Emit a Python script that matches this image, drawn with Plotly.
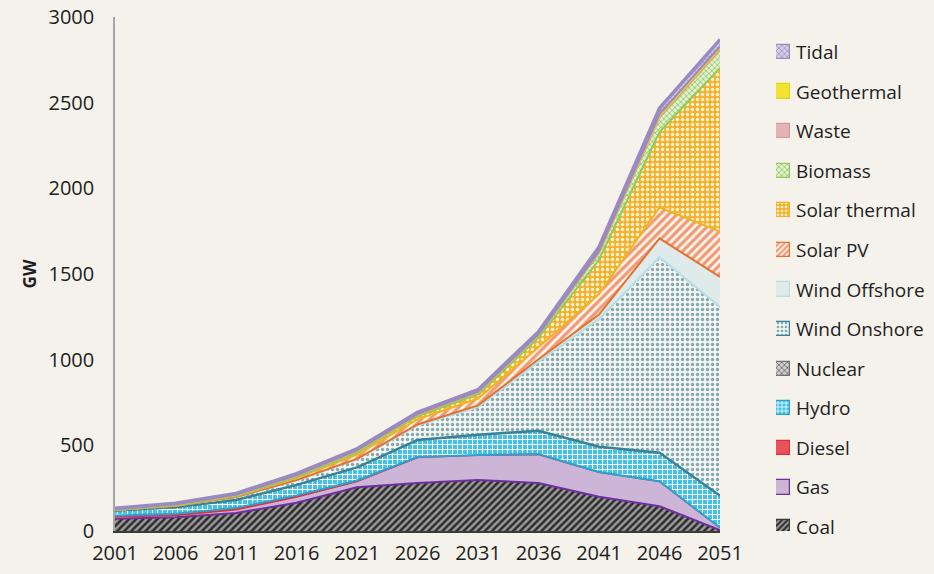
import plotly.graph_objects as go

years = [2001, 2006, 2011, 2016, 2021, 2026, 2031, 2036, 2041, 2046, 2051]

coal = [72, 80, 105, 165, 255, 280, 298, 280, 200, 145, 5]
gas = [12, 12, 20, 35, 35, 150, 145, 168, 144, 145, 15]
diesel = [6, 8, 10, 8, 5, 2, 1, 1, 0, 0, 0]
hydro = [28, 38, 45, 60, 75, 97, 116, 135, 146, 165, 185]
nuclear = [1, 1, 2, 2, 3, 3, 3, 3, 3, 3, 3]
wind_onshore = [3, 8, 15, 25, 45, 85, 160, 400, 745, 1140, 1100]
wind_offshore = [0, 0, 1, 2, 3, 5, 10, 15, 25, 110, 175]
solar_pv = [1, 2, 4, 12, 25, 30, 40, 70, 120, 180, 265]
solar_thermal = [0, 1, 2, 5, 12, 18, 25, 55, 200, 440, 955]
biomass = [3, 4, 5, 7, 8, 8, 10, 15, 40, 85, 105]
waste = [1, 1, 1, 2, 2, 2, 2, 3, 5, 10, 10]
geothermal = [0, 1, 1, 2, 2, 2, 3, 3, 5, 10, 10]
tidal = [5, 6, 8, 10, 10, 10, 12, 15, 25, 35, 40]

names = ["Coal", "Gas", "Diesel", "Hydro", "Nuclear", "Wind Onshore", "Wind Offshore",
         "Solar PV", "Solar thermal", "Biomass", "Waste", "Geothermal", "Tidal"]
series = [coal, gas, diesel, hydro, nuclear, wind_onshore, wind_offshore,
          solar_pv, solar_thermal, biomass, waste, geothermal, tidal]
tick_years = [2001, 2006, 2011, 2016, 2021, 2026, 2031, 2036, 2041, 2046, 2051]
y_ticks = [0, 500, 1000, 1500, 2000, 2500, 3000]

styles = {
    "Coal": dict(border="#3a3a3a", pat=dict(shape="/", fgcolor="#2b2b2b", bgcolor="#9a9a9a", size=5, solidity=0.5)),
    "Gas": dict(border="#6f2f9f", pat=dict(shape="", bgcolor="#cdb5d8", fgcolor="#cdb5d8")),
    "Diesel": dict(border="#e0303c", pat=dict(shape="", bgcolor="#e8525a", fgcolor="#e8525a")),
    "Hydro": dict(border="#2aa3cf", pat=dict(shape="+", fgcolor="#ffffff", bgcolor="#45c0e6", size=5, solidity=0.35)),
    "Nuclear": dict(border="#707070", pat=dict(shape="x", fgcolor="#6e6e6e", bgcolor="#d0d0d0", size=5, solidity=0.4)),
    "Wind Onshore": dict(border="#31859c", pat=dict(shape=".", fgcolor="#86a8ab", bgcolor="#f1f5f3", size=5, solidity=0.35)),
    "Wind Offshore": dict(border="#b7dde6", pat=dict(shape="", bgcolor="#dfeaea", fgcolor="#dfeaea")),
    "Solar PV": dict(border="#e2722e", pat=dict(shape="/", fgcolor="#fff6ee", bgcolor="#ef9b78", size=6, solidity=0.45)),
    "Solar thermal": dict(border="#f2b321", pat=dict(shape=".", fgcolor="#fff4dc", bgcolor="#f4b32e", size=5, solidity=0.35)),
    "Biomass": dict(border="#8fcb5c", pat=dict(shape="x", fgcolor="#94cc68", bgcolor="#e3f0d2", size=4, solidity=0.4)),
    "Waste": dict(border="#d99a9e", pat=dict(shape="", bgcolor="#e2b2b4", fgcolor="#e2b2b4")),
    "Geothermal": dict(border="#e8d800", pat=dict(shape="", bgcolor="#f1e233", fgcolor="#f1e233")),
    "Tidal": dict(border="#9a8ac2", pat=dict(shape="x", fgcolor="#a495c9", bgcolor="#d6cee7", size=4, solidity=0.4)),
}

bg = "#f4f2eb"
font_family = "Open Sans"
text_color = "#1e1e1e"

fig = go.Figure()

n = len(names)
for i, (name, vals) in enumerate(zip(names, series)):
    st = styles[name]
    # the visible top border in the reference belongs to the next layer's outline
    line_col = styles[names[i + 1]]["border"] if i + 1 < n else st["border"]
    fig.add_trace(go.Scatter(
        x=years, y=vals, name=name, mode="lines", stackgroup="one",
        line=dict(color=line_col, width=2 if name != "Tidal" else 3.5),
        fillcolor=st["pat"]["bgcolor"],
        fillpattern=dict(**st["pat"], fillmode="replace") if st["pat"]["shape"] else None,
        showlegend=False, hoverinfo="x+y+name",
    ))

W, H = 934, 574
ml, mt, mb = 115, 17, 43
pw = W - ml

# custom legend built from the series names (top = last series)
for i, name in enumerate(names):
    st = styles[name]
    pat = st["pat"]
    fig.add_trace(go.Bar(
        x=[1], y=[i], orientation="h", width=0.36,
        xaxis="x2", yaxis="y2", showlegend=False, hoverinfo="skip",
        marker=dict(color=pat["bgcolor"], line=dict(color=st["border"], width=1.2),
                    pattern=dict(**{k: v for k, v in pat.items() if k != "size"}, size=4, fillmode="replace") if pat["shape"] else None),
    ))
    fig.add_annotation(
        x=(794 - ml) / pw, xref="paper", xanchor="left",
        y=i, yref="y2", yanchor="middle",
        text=name, showarrow=False,
        font=dict(family=font_family, size=19, color=text_color),
    )

fig.update_layout(
    width=W, height=H, autosize=False,
    margin=dict(l=ml, r=0, t=mt, b=mb, autoexpand=False),
    paper_bgcolor=bg, plot_bgcolor=bg,
    font=dict(family=font_family, size=20, color=text_color),
    showlegend=False,
    xaxis=dict(
        domain=[0, 605 / pw], range=[2001, 2051], tickvals=tick_years,
        showgrid=False, zeroline=False, showline=True, linecolor="#3a3a3a", linewidth=1.5,
        ticks="", ticklabelstandoff=3, tickfont=dict(size=20),
    ),
    yaxis=dict(
        range=[0, 3000], tickvals=y_ticks, showgrid=False, zeroline=False,
        showline=True, linecolor="#a6a6a6", linewidth=1.5, ticks="", ticklabelstandoff=15,
        tickfont=dict(size=20),
        title=dict(text="<b>GW</b>", font=dict(size=17), standoff=8),
    ),
    xaxis2=dict(domain=[(776 - ml) / pw, (790 - ml) / pw], range=[0, 1], visible=False, fixedrange=True),
    yaxis2=dict(domain=[0, 1], range=[-0.101, 12.885], visible=False, anchor="x2", fixedrange=True),
    bargap=0,
)

fig.write_html(
    "out.html",
    config={"responsive": False, "displayModeBar": False},
    post_script="document.body.style.margin='0';document.body.style.background='%s';" % bg,
)
